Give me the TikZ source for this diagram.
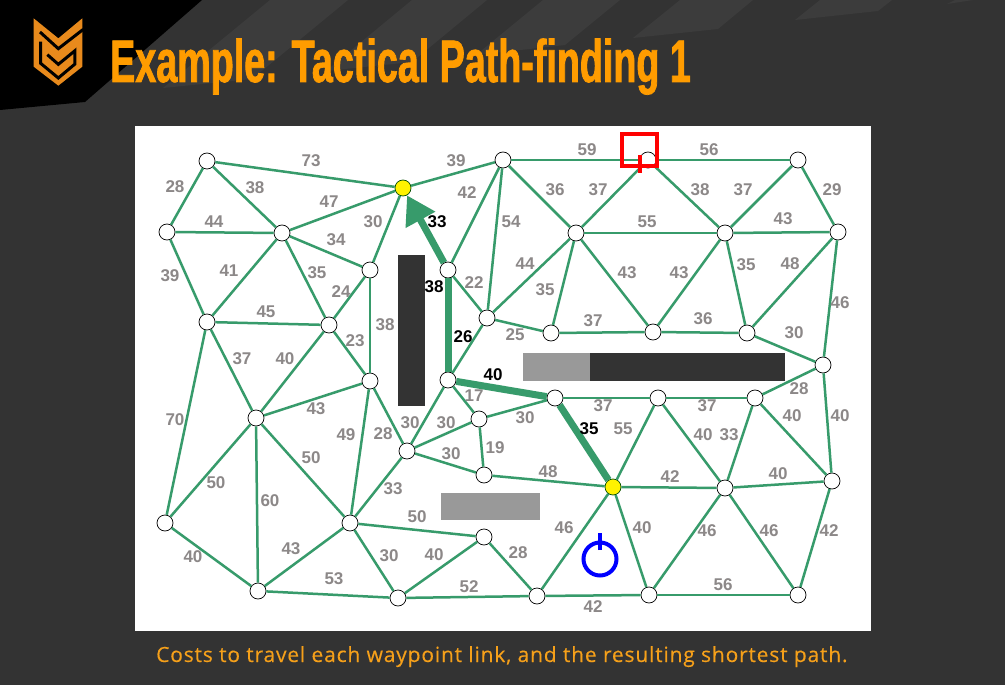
\documentclass[tikz,border=0pt]{standalone}
\usepackage{fontspec}
\usepackage{xcolor}
\usetikzlibrary{arrows.meta}
\setmainfont{Liberation Sans}
\newfontfamily\titlefont[FakeStretch=0.628,FakeBold=1.2]{Liberation Sans}
\newfontfamily\capfont[FakeStretch=1.0,LetterSpace=3.9,FakeBold=0.3]{Open Sans}
\definecolor{slide}{HTML}{333333}
\definecolor{stripe}{HTML}{3C3C3C}
\definecolor{titleorange}{HTML}{FF9C00}
\definecolor{logoorange}{HTML}{E88A1C}
\definecolor{caporange}{HTML}{F5A01A}
\definecolor{linkgreen}{HTML}{379B6B}
\definecolor{costgray}{HTML}{8C8888}
\definecolor{wallgray}{HTML}{999999}
\begin{document}
\begin{tikzpicture}[x=1pt,y=-1pt]
	\tikzstyle{vertex} = [circle,fill=white,draw=black,line width=0.7pt,minimum size=16pt,inner sep=0pt]
	\tikzstyle{vertex2} = [circle,fill=yellow,draw=black!70!green,line width=0.7pt,minimum size=16pt,inner sep=0pt]
	\tikzstyle{edge} = [-,draw=linkgreen,line width=2.5pt]
	\tikzstyle{route} = [-,draw=linkgreen,line width=7pt]
	\tikzstyle{cost} = [text=costgray,inner sep=0pt,font=\bfseries\fontsize{17}{17}\selectfont]
	\tikzstyle{cost2} = [cost,text=black]
	\tikzstyle{wall} = [fill=slide]
	\tikzstyle{wall2} = [fill=wallgray]
	\useasboundingbox (0,0) rectangle (1005,685);
	% slide
	\fill[slide] (0,0) rectangle (1005,685);
	\fill[stripe] (270,0)--(348,0)--(252,79)--(163,88)--cycle;
	\fill[stripe] (412,0)--(487,0)--(412,62)--(326,71)--cycle;
	\fill[stripe] (543,0)--(620,0)--(565,45)--(476,55)--cycle;
	\fill[stripe] (680,0)--(753,0)--(718,29)--(633,38)--cycle;
	\fill[stripe] (820,0)--(892,0)--(878,11)--(795,20)--cycle;
	\fill[stripe] (955,0)--(973,0)--(947,4)--cycle;
	\fill[black] (0,0)--(202,0)--(85,102)--(0,110)--cycle;
	% logo
	\begin{scope}[shift={(20,10)},x=0.3333pt,y=-0.3333pt]
		\fill[logoorange] (41,25)--(115,85)--(187,25)--(187,170)--(115,227)--(41,170)--cycle;
		\draw[black,line width=3pt] (60,66)--(115,116)--(190,58);
		\draw[black,line width=3pt] (62,95)--(62,160)--(115,204)--(165,162)--(165,122)--(115,163)--(82,134);
	\end{scope}
	\node[anchor=base west,inner sep=0pt,text=titleorange,font=\titlefont\bfseries\fontsize{60}{60}\selectfont] (title) at (110,82) {Example: Tactical Path-finding 1};
	\node[anchor=base west,inner sep=0pt,text=caporange,font=\capfont\fontsize{21}{22}\selectfont] (caption) at (156,662) {Costs to travel each waypoint link, and the resulting shortest path.};
	% map
	\fill[white] (135,126) rectangle (871,631);
	\fill[wall] (398,255) rectangle (425,406);
	\fill[wall] (590,353) rectangle (785,381);
	\fill[wall2] (523,353) rectangle (590,381);
	\fill[wall2] (441,493) rectangle (540,520);
	% waypoints
	\node[vertex] (n1) at (207,161) {};
	\node[vertex] (n2) at (167,232) {};
	\node[vertex] (n3) at (282,233) {};
	\node[vertex] (n4) at (207,322) {};
	\node[vertex] (n5) at (329,325) {};
	\node[vertex] (n6) at (370,270) {};
	\node[vertex] (n7) at (370,381) {};
	\node[vertex] (n8) at (256,418) {};
	\node[vertex] (n9) at (165,523) {};
	\node[vertex] (n10) at (258,591) {};
	\node[vertex] (n11) at (350,523) {};
	\node[vertex] (n12) at (398,598) {};
	\node[vertex] (n13) at (407,451) {};
	\node[vertex2] (n14) at (403,188) {};
	\node[vertex] (n15) at (503,160) {};
	\node[vertex] (n16) at (448,270) {};
	\node[vertex] (n17) at (487,318) {};
	\node[vertex] (n18) at (448,380) {};
	\node[vertex] (n19) at (479,419) {};
	\node[vertex] (n20) at (484,475) {};
	\node[vertex] (n21) at (484,537) {};
	\node[vertex] (n22) at (537,596) {};
	\node[vertex] (n23) at (551,333) {};
	\node[vertex] (n24) at (576,233) {};
	\node[vertex] (n25) at (648,160) {};
	\node[vertex] (n26) at (653,332) {};
	\node[vertex] (n27) at (725,233) {};
	\node[vertex] (n28) at (747,333) {};
	\node[vertex] (n29) at (798,160) {};
	\node[vertex] (n30) at (838,232) {};
	\node[vertex] (n31) at (823,365) {};
	\node[vertex] (n32) at (555,398) {};
	\node[vertex] (n33) at (658,398) {};
	\node[vertex] (n34) at (755,398) {};
	\node[vertex2] (n35) at (613,487) {};
	\node[vertex] (n36) at (725,488) {};
	\node[vertex] (n37) at (832,481) {};
	\node[vertex] (n38) at (649,595) {};
	\node[vertex] (n39) at (798,595) {};
	% links
	\draw[edge] (n1)--(n2) node[cost] (w1) at (175,187) {28};
	\draw[edge] (n1)--(n3) node[cost] (w2) at (255,188) {38};
	\draw[edge] (n1)--(n14) node[cost] (w3) at (311,161) {73};
	\draw[edge] (n2)--(n3) node[cost] (w4) at (214,222) {44};
	\draw[edge] (n2)--(n4) node[cost] (w5) at (170,276) {39};
	\draw[edge] (n3)--(n4) node[cost] (w6) at (229,271) {41};
	\draw[edge] (n3)--(n14) node[cost] (w7) at (329,202) {47};
	\draw[edge] (n6)--(n14) node[cost] (w8) at (373,222) {30};
	\draw[edge] (n3)--(n6) node[cost] (w9) at (336,240) {34};
	\draw[edge] (n3)--(n5) node[cost] (w10) at (317,273) {35};
	\draw[edge] (n5)--(n6) node[cost] (w11) at (341,292) {24};
	\draw[edge] (n4)--(n5) node[cost] (w12) at (266,312) {45};
	\draw[edge] (n6)--(n7) node[cost] (w13) at (385,325) {38};
	\draw[edge] (n5)--(n7) node[cost] (w14) at (355,341) {23};
	\draw[edge] (n4)--(n8) node[cost] (w15) at (242,359) {37};
	\draw[edge] (n5)--(n8) node[cost] (w16) at (285,359) {40};
	\draw[edge] (n7)--(n8) node[cost] (w17) at (316,409) {43};
	\draw[edge] (n4)--(n9) node[cost] (w18) at (175,420) {70};
	\draw[edge] (n7)--(n11) node[cost] (w19) at (346,435) {49};
	\draw[edge] (n7)--(n13) node[cost] (w20) at (383,434) {28};
	\draw[edge] (n13)--(n18) node[cost] (w21) at (410,423) {30};
	\draw[edge] (n8)--(n11) node[cost] (w22) at (311,458) {50};
	\draw[edge] (n8)--(n9) node[cost] (w23) at (216,483) {50};
	\draw[edge] (n8)--(n10) node[cost] (w24) at (270,501) {60};
	\draw[edge] (n11)--(n13) node[cost] (w25) at (393,489) {33};
	\draw[edge] (n11)--(n21) node[cost] (w26) at (417,517) {50};
	\draw[edge] (n10)--(n11) node[cost] (w27) at (291,549) {43};
	\draw[edge] (n9)--(n10) node[cost] (w28) at (193,557) {40};
	\draw[edge] (n10)--(n12) node[cost] (w29) at (334,579) {53};
	\draw[edge] (n11)--(n12) node[cost] (w30) at (389,556) {30};
	\draw[edge] (n12)--(n21) node[cost] (w31) at (434,555) {40};
	\draw[edge] (n12)--(n22) node[cost] (w32) at (469,587) {52};
	\draw[edge] (n21)--(n22) node[cost] (w33) at (518,553) {28};
	\draw[edge] (n13)--(n19) node[cost] (w34) at (446,423) {30};
	\draw[edge] (n13)--(n20) node[cost] (w35) at (451,454) {30};
	\draw[edge] (n18)--(n19) node[cost] (w36) at (474,396) {17};
	\draw[edge] (n19)--(n20) node[cost] (w37) at (495,448) {19};
	\draw[edge] (n19)--(n32) node[cost] (w38) at (525,418) {30};
	\draw[edge] (n20)--(n35) node[cost] (w39) at (548,472) {48};
	\draw[edge] (n14)--(n15) node[cost] (w40) at (456,161) {39};
	\draw[edge] (n15)--(n16) node[cost] (w41) at (467,193) {42};
	\draw[edge] (n15)--(n17) node[cost] (w42) at (511,222) {54};
	\draw[edge] (n16)--(n17) node[cost] (w43) at (474,283) {22};
	\draw[edge] (n17)--(n18) node[cost2] (w44) at (463,337) {26};
	\draw[edge] (n17)--(n23) node[cost] (w45) at (515,335) {25};
	\draw[edge] (n17)--(n24) node[cost] (w46) at (525,264) {44};
	\draw[edge] (n23)--(n24) node[cost] (w47) at (545,290) {35};
	\draw[edge] (n15)--(n24) node[cost] (w48) at (555,190) {36};
	\draw[edge] (n24)--(n25) node[cost] (w49) at (598,190) {37};
	\draw[edge] (n15)--(n25) node[cost] (w50) at (587,150) {59};
	\draw[edge] (n25)--(n29) node[cost] (w51) at (709,150) {56};
	\draw[edge] (n25)--(n27) node[cost] (w52) at (700,190) {38};
	\draw[edge] (n27)--(n29) node[cost] (w53) at (743,190) {37};
	\draw[edge] (n29)--(n30) node[cost] (w54) at (832,190) {29};
	\draw[edge] (n24)--(n27) node[cost] (w55) at (647,222) {55};
	\draw[edge] (n27)--(n30) node[cost] (w56) at (783,219) {43};
	\draw[edge] (n24)--(n26) node[cost] (w57) at (627,273) {43};
	\draw[edge] (n26)--(n27) node[cost] (w58) at (679,273) {43};
	\draw[edge] (n27)--(n28) node[cost] (w59) at (746,265) {35};
	\draw[edge] (n28)--(n30) node[cost] (w60) at (790,264) {48};
	\draw[edge] (n30)--(n31) node[cost] (w61) at (840,303) {46};
	\draw[edge] (n23)--(n26) node[cost] (w62) at (593,321) {37};
	\draw[edge] (n26)--(n28) node[cost] (w63) at (703,319) {36};
	\draw[edge] (n28)--(n31) node[cost] (w64) at (794,333) {30};
	\draw[edge] (n31)--(n34) node[cost] (w65) at (799,389) {28};
	\draw[edge] (n32)--(n33) node[cost] (w66) at (603,406) {37};
	\draw[edge] (n33)--(n34) node[cost] (w67) at (707,406) {37};
	\draw[edge] (n34)--(n37) node[cost] (w68) at (792,416) {40};
	\draw[edge] (n31)--(n37) node[cost] (w69) at (840,416) {40};
	\draw[edge] (n33)--(n35) node[cost] (w70) at (623,429) {55};
	\draw[edge] (n33)--(n36) node[cost] (w71) at (703,435) {40};
	\draw[edge] (n34)--(n36) node[cost] (w72) at (729,435) {33};
	\draw[edge] (n35)--(n36) node[cost] (w73) at (670,477) {42};
	\draw[edge] (n36)--(n37) node[cost] (w74) at (778,474) {40};
	\draw[edge] (n22)--(n35) node[cost] (w75) at (564,528) {46};
	\draw[edge] (n35)--(n38) node[cost] (w76) at (642,528) {40};
	\draw[edge] (n36)--(n38) node[cost] (w77) at (707,531) {46};
	\draw[edge] (n36)--(n39) node[cost] (w78) at (769,531) {46};
	\draw[edge] (n37)--(n39) node[cost] (w79) at (829,531) {42};
	\draw[edge] (n38)--(n39) node[cost] (w80) at (723,585) {56};
	\draw[edge] (n22)--(n38) node[cost] (w81) at (593,607) {42};
	% path
	\draw[route] (n35)--(n32) node[cost2] (w82) at (589,429) {35};
	\draw[route] (n32)--(n18) node[cost2] (w83) at (493,375) {40};
	\draw[route] (n18)--(n16) node[cost2] (w84) at (434,287) {38};
	\draw[route,-{Triangle[length=28pt,width=32pt]}] (n16)--(n14) node[cost2] (w85) at (437,222) {33};
	% markers
	\node[draw=red,line width=4pt,minimum width=35pt,minimum height=32pt,inner sep=0pt] (dest) at (639,149.5) {};
	\coordinate (destTick) at (640,173);
	\coordinate (destIn) at (640,155);
	\draw[red,line width=4pt] (destIn)--(destTick);
	\node[circle,draw=blue,line width=4pt,minimum size=33pt,inner sep=0pt] (start) at (600,559) {};
	\coordinate (startTick) at (600,533);
	\coordinate (startIn) at (600,550);
	\draw[blue,line width=4pt] (startIn)--(startTick);
\end{tikzpicture}
\end{document}
